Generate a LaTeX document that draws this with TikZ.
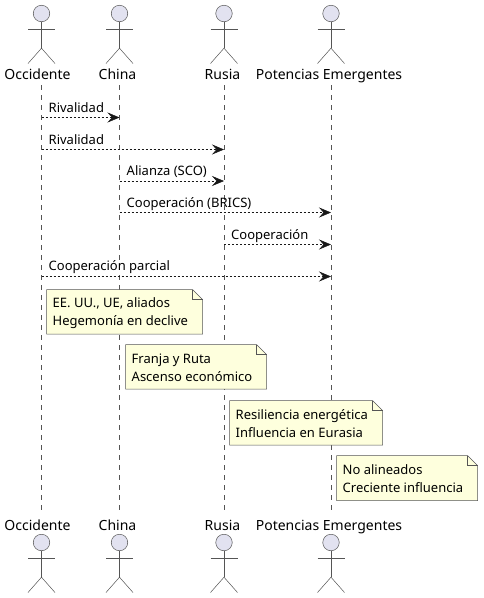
\documentclass[tikz,border=0pt]{standalone}
\usepackage{fontspec}
\setmainfont{Noto Sans}
\usetikzlibrary{arrows.meta}
\definecolor{linec}{HTML}{181818}
\definecolor{softline}{HTML}{555555}
\definecolor{actorfill}{HTML}{E2E2F0}
\definecolor{notefill}{HTML}{FEFFDD}
\tikzset{
  lifeline/.style={draw=softline,line width=0.5pt,dash pattern=on 5pt off 5pt},
  actorline/.style={draw=softline,line width=0.5pt},
  actorhead/.style={circle,draw=softline,line width=0.5pt,fill=actorfill,minimum size=16.5pt,inner sep=0pt},
  actorlabel/.style={anchor=base,inner sep=0pt,font=\fontsize{14}{16}\selectfont,text=black},
  msg/.style={draw=linec,line width=0.5pt,dash pattern=on 2pt off 2pt,
    -{Stealth[length=12pt,width=10pt,inset=4.5pt,fill=linec]}},
  msglabel/.style={anchor=base west,inner sep=0pt,font=\fontsize{13}{15}\selectfont,text=black},
  notebody/.style={draw=softline,line width=0.5pt,fill=notefill,line join=miter},
  notefold/.style={draw=softline,line width=0.5pt},
  notetext/.style={anchor=west,inner sep=0pt,align=left,font=\fontsize{13}{18}\selectfont,text=black},
}
% actor: name, x, head centre y
\newcommand{\actorfig}[3]{%
  \node[actorhead] (#1) at (#2,#3) {};
  \coordinate (#1hip) at (#2,#3+34.7);
  \coordinate (#1l) at (#2-13.5,#3+15.5);
  \coordinate (#1r) at (#2+13.5,#3+15.5);
  \coordinate (#1fl) at (#2-13.5,#3+50);
  \coordinate (#1fr) at (#2+13.5,#3+50);
  \draw[actorline] (#1) -- (#1hip);
  \draw[actorline] (#1l) -- (#1r);
  \draw[actorline] (#1fl) -- (#1hip) -- (#1fr);
}
% note: name, x1, y1, x2, y2, text
\newcommand{\notebox}[6]{%
  \coordinate (#1nw) at (#2,#3);
  \coordinate (#1fa) at (#4-10,#3);
  \coordinate (#1fb) at (#4,#3+10);
  \coordinate (#1fc) at (#4-10,#3+10);
  \coordinate (#1se) at (#4,#5);
  \coordinate (#1sw) at (#2,#5);
  \draw[notebody] (#1nw) -- (#1fa) -- (#1fb) -- (#1se) -- (#1sw) -- cycle;
  \draw[notefold] (#1fa) -- (#1fc) -- (#1fb);
  \node[notetext] (#1) at (#2+6,{(#3+#5)/2+1}) {#6};
}
\begin{document}
\begin{tikzpicture}[x=1pt,y=-1pt]
\useasboundingbox (0,0) rectangle (483,598);
% lifeline ends
\coordinate (occT) at (41.5,85); \coordinate (occB) at (41.5,513);
\coordinate (chiT) at (119.5,85); \coordinate (chiB) at (119.5,513);
\coordinate (rusT) at (224,85); \coordinate (rusB) at (224,513);
\coordinate (potT) at (331,85); \coordinate (potB) at (331,513);
\draw[lifeline] (occT) -- (occB);
\draw[lifeline] (chiT) -- (chiB);
\draw[lifeline] (rusT) -- (rusB);
\draw[lifeline] (potT) -- (potB);
% actors top
\actorfig{occA}{41.5}{13.5}
\actorfig{chiA}{119.5}{13.5}
\actorfig{rusA}{224}{13.5}
\actorfig{potA}{331}{13.5}
\node[actorlabel] (occL) at (37.5,79) {Occidente};
\node[actorlabel] (chiL) at (117.5,79) {China};
\node[actorlabel] (rusL) at (222.5,79) {Rusia};
\node[actorlabel] (potL) at (329,79) {Potencias Emergentes};
% actors bottom
\node[actorlabel] (occM) at (37.5,530) {Occidente};
\node[actorlabel] (chiM) at (117.5,530) {China};
\node[actorlabel] (rusM) at (222.5,530) {Rusia};
\node[actorlabel] (potM) at (329,530) {Potencias Emergentes};
\actorfig{occZ}{41.5}{542.5}
\actorfig{chiZ}{119.5}{542.5}
\actorfig{rusZ}{224}{542.5}
\actorfig{potZ}{331}{542.5}
% messages
\coordinate (a1) at (41.5,117.5); \coordinate (b1) at (119.5,117.5);
\coordinate (a2) at (41.5,149.5); \coordinate (b2) at (224,149.5);
\coordinate (a3) at (119.5,181); \coordinate (b3) at (224,181);
\coordinate (a4) at (119.5,212.5); \coordinate (b4) at (331,212.5);
\coordinate (a5) at (224,244.5); \coordinate (b5) at (331,244.5);
\coordinate (a6) at (41.5,276.5); \coordinate (b6) at (331,276.5);
\draw[msg] (a1) -- (b1);
\draw[msg] (a2) -- (b2);
\draw[msg] (a3) -- (b3);
\draw[msg] (a4) -- (b4);
\draw[msg] (a5) -- (b5);
\draw[msg] (a6) -- (b6);
\node[msglabel] (t1) at (48.5,112) {Rivalidad};
\node[msglabel] (t2) at (48.5,144) {Rivalidad};
\node[msglabel] (t3) at (126.5,175.5) {Alianza (SCO)};
\node[msglabel] (t4) at (126.5,207) {Cooperación (BRICS)};
\node[msglabel] (t5) at (231,239) {Cooperación};
\node[msglabel] (t6) at (48.5,270.5) {Cooperación parcial};
% notes
\notebox{n1}{46.5}{289.5}{202.5}{334}{EE. UU., UE, aliados\\Hegemonía en declive}
\notebox{n2}{125.5}{344.5}{266.5}{389}{Franja y Ruta\\Ascenso económico}
\notebox{n3}{229.5}{400.5}{382.5}{445}{Resiliencia energética\\Influencia en Eurasia}
\notebox{n4}{336.5}{455.5}{477.5}{500.5}{No alineados\\Creciente influencia}
\end{tikzpicture}
\end{document}
